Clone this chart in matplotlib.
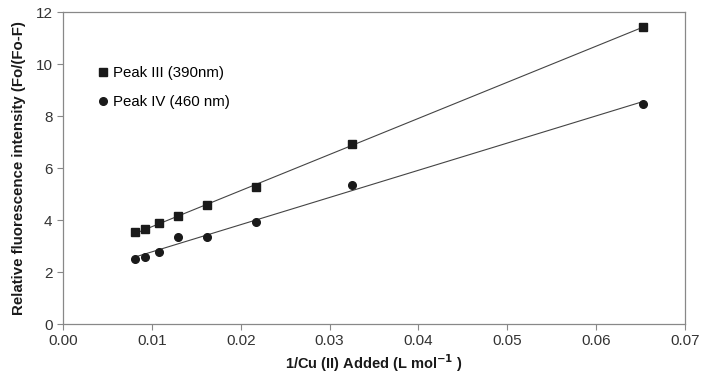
import matplotlib.pyplot as plt
import numpy as np

plt.rcParams['font.family'] = ['Liberation Sans', 'DejaVu Sans']

# data
cu_inv = [0.00807, 0.00923, 0.01084, 0.01298, 0.01624, 0.02172, 0.03256, 0.06524]
peak3 = [3.53, 3.64, 3.87, 4.17, 4.56, 5.28, 6.92, 11.42]
peak4 = [2.51, 2.58, 2.78, 3.36, 3.36, 3.91, 5.36, 8.47]
series_labels = ['Peak III (390nm)', 'Peak IV (460 nm)']
xticks = [0.00, 0.01, 0.02, 0.03, 0.04, 0.05, 0.06, 0.07]
yticks = [0, 2, 4, 6, 8, 10, 12]

fig = plt.figure(figsize=(7.08, 3.75), dpi=100)
ax = fig.add_axes([63 / 708, 1 - 324 / 375, 622 / 708, 312 / 375])

x = np.array(cu_inv)
for y, mk, lab in [(peak3, 's', series_labels[0]), (peak4, 'o', series_labels[1])]:
    ax.plot(x, y, mk, color='#1a1a1a', markersize=5.5, label=lab, zorder=3)
    # linear trendline
    k, b = np.polyfit(x, y, 1)
    xl = np.array([x.min(), x.max()])
    ax.plot(xl, k * xl + b, color='#444444', linewidth=0.8, zorder=2)

ax.set_xlim(0, 0.07)
ax.set_ylim(0, 12)
ax.set_xticks(xticks)
ax.set_xticklabels([f'{t:.2f}' for t in xticks])
ax.set_yticks(yticks)
ax.tick_params(labelsize=11, colors='#333333', length=4, width=0.8, color='#888888')

for s in ax.spines.values():
    s.set_color('#888888')
    s.set_linewidth(0.9)

ax.set_xlabel(r'1/Cu (II) Added (L mol$^{\mathbf{-1}}$ )', fontsize=10.5, fontweight='bold', color='#1a1a1a', labelpad=3)
ax.set_ylabel('Relative fluorescence intensity (Fo/(Fo-F)', fontsize=10.8, fontweight='bold', color='#1a1a1a', labelpad=7)

ax.legend(loc='upper left', bbox_to_anchor=(0.043, 0.845), frameon=False, fontsize=10.8,
          handletextpad=0.15, labelspacing=1.0, handlelength=1.0, borderaxespad=0)

fig.savefig('out.png', dpi=100)
